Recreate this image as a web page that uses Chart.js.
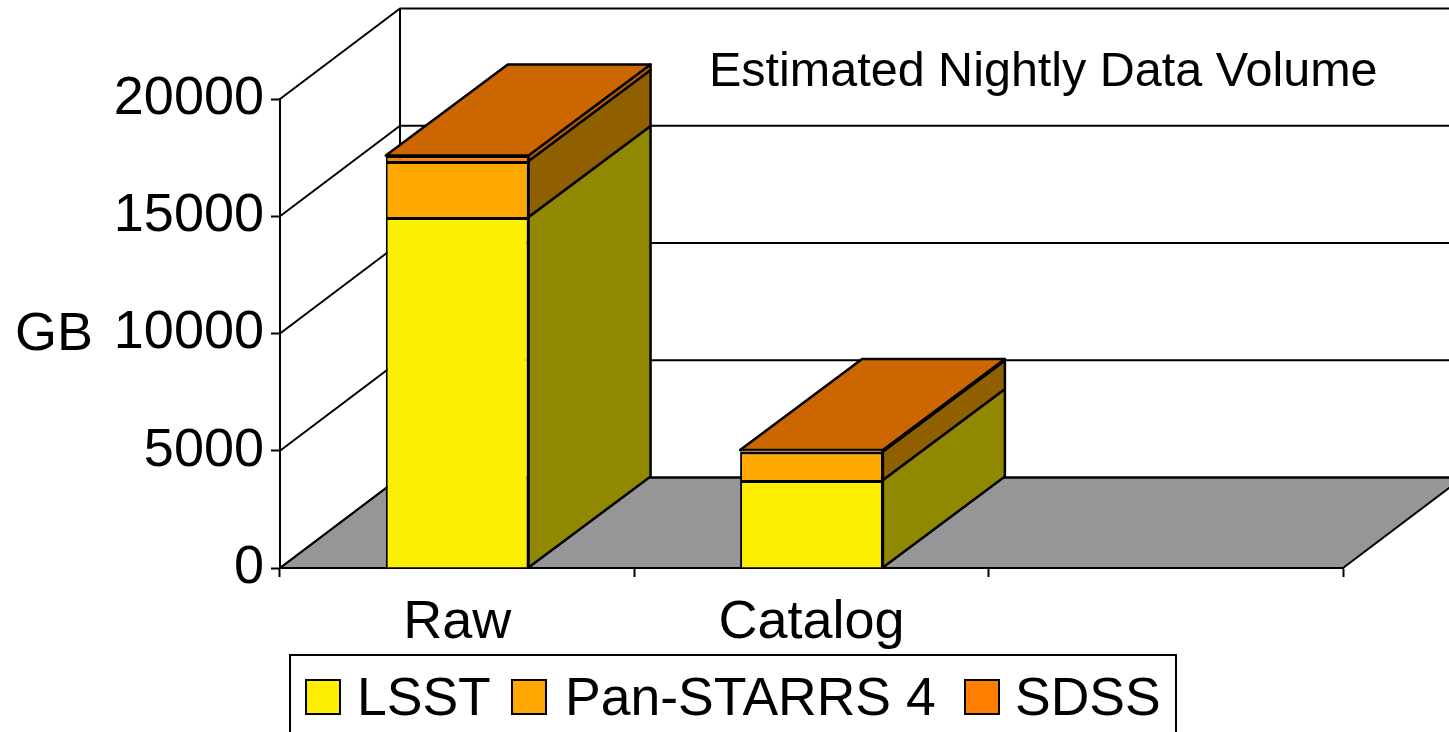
<!DOCTYPE html>
<html>
<head>
<meta charset="utf-8">
<title>Estimated Nightly Data Volume</title>
<script src="https://cdn.jsdelivr.net/npm/chart.js@4"></script>
<style>
    html, body { margin: 0; padding: 0; background: #fff; overflow: hidden; }
    canvas { display: block; }
</style>
</head>
<body>
<canvas id="volumeChart" width="1449" height="732"></canvas>
<script>
// Values (GB per night)
const categories = ['Raw', 'Catalog', ''];
const lsstValues = [14970, 3750];
const panStarrsValues = [2390, 1220];
const sdssValues = [230, 60];
const yMax = 20000;
const yStep = 5000;

const chartTitle = 'Estimated Nightly Data Volume';
const yAxisLabel = 'GB';
const FONT = '"Liberation Sans", Arial, sans-serif';

// Oblique offset of the back wall and of the bars
const wallDepth = { x: 120, y: 90.5 };
const barDepth = { x: 122, y: 91 };

const frontColors = ['#fcf000', '#ffa800', '#ff7f00'];
const sideColors = ['#908800', '#906000', '#cc6600'];
const topColor = '#cc6600';

function polygon(ctx, points, fill) {
    ctx.beginPath();
    points.forEach((p, i) => i ? ctx.lineTo(p[0], p[1]) : ctx.moveTo(p[0], p[1]));
    ctx.closePath();
    if (fill) {
        ctx.fillStyle = fill;
        ctx.fill();
    }
    ctx.stroke();
}

// Floor, back wall gridlines and side wall, behind the axes
const wallsPlugin = {
    id: 'walls',
    beforeDraw(chart) {
        const ctx = chart.ctx;
        const { left, right, bottom } = chart.chartArea;
        const yScale = chart.scales.y;
        const backLeft = left + wallDepth.x;
        const backRight = right + wallDepth.x;

        ctx.save();
        ctx.strokeStyle = '#000';
        ctx.lineWidth = 2;
        ctx.lineJoin = 'round';

        polygon(ctx, [[left, bottom], [right, bottom], [backRight, bottom - wallDepth.y], [backLeft, bottom - wallDepth.y]], '#969696');

        yScale.ticks.forEach(tick => {
            const y = yScale.getPixelForValue(tick.value);
            ctx.beginPath();
            ctx.moveTo(left, y);
            ctx.lineTo(backLeft, y - wallDepth.y);
            ctx.lineTo(backRight, y - wallDepth.y);
            ctx.stroke();
        });

        const topY = yScale.getPixelForValue(yMax) - wallDepth.y;
        ctx.beginPath();
        ctx.moveTo(backLeft, topY);
        ctx.lineTo(backLeft, bottom - wallDepth.y);
        ctx.stroke();
        ctx.restore();
    }
};

// Side and top faces of the bars; the front faces are the chart's own bars
const barDepthPlugin = {
    id: 'barDepth',
    beforeDatasetsDraw(chart) {
        const ctx = chart.ctx;
        const dx = barDepth.x;
        const dy = barDepth.y;
        const lastIndex = chart.data.datasets.length - 1;

        ctx.save();
        ctx.strokeStyle = '#000';
        ctx.lineWidth = 2.5;
        ctx.lineJoin = 'round';

        chart.data.datasets.forEach((dataset, i) => {
            chart.getDatasetMeta(i).data.forEach(bar => {
                const p = bar.getProps(['x', 'y', 'base', 'width'], true);
                const xLeft = p.x - p.width / 2;
                const xRight = p.x + p.width / 2;
                polygon(ctx, [[xRight, p.y], [xRight, p.base], [xRight + dx, p.base - dy], [xRight + dx, p.y - dy]], sideColors[i]);
                if (i === lastIndex) {
                    polygon(ctx, [[xLeft, p.y], [xRight, p.y], [xRight + dx, p.y - dy], [xLeft + dx, p.y - dy]], topColor);
                }
            });
        });
        ctx.restore();
    }
};

// Title, axis label and the framed legend
const annotationsPlugin = {
    id: 'annotations',
    afterDraw(chart) {
        const ctx = chart.ctx;
        ctx.save();
        ctx.fillStyle = '#000';
        ctx.textBaseline = 'alphabetic';
        ctx.textAlign = 'left';

        ctx.font = '48.5px ' + FONT;
        ctx.fillText(chartTitle, 709, 86);

        ctx.font = '54px ' + FONT;
        ctx.fillText(yAxisLabel, 15, 350);

        ctx.strokeStyle = '#000';
        ctx.lineWidth = 2;
        ctx.fillStyle = '#fff';
        ctx.fillRect(290, 655, 886, 100);
        ctx.strokeRect(290, 655, 886, 100);

        const swatchX = [306, 512, 965];
        const textX = [357, 565, 1015];
        ctx.font = '53.5px ' + FONT;
        chart.data.datasets.forEach((dataset, i) => {
            ctx.fillStyle = dataset.backgroundColor;
            ctx.fillRect(swatchX[i], 680, 34, 34);
            ctx.strokeRect(swatchX[i], 680, 34, 34);
            ctx.fillStyle = '#000';
            ctx.fillText(dataset.label, textX[i], 715);
        });
        ctx.restore();
    }
};

const seriesLabels = ['LSST', 'Pan-STARRS 4', 'SDSS'];
const seriesValues = [lsstValues, panStarrsValues, sdssValues];

new Chart(document.getElementById('volumeChart'), {
    type: 'bar',
    data: {
        labels: categories,
        datasets: seriesLabels.map((label, i) => ({
            label: label,
            data: seriesValues[i],
            backgroundColor: frontColors[i],
            borderColor: '#000',
            // no bottom edge, the next segment's top edge already closes the join
            borderWidth: { top: 3, left: 2, right: 2, bottom: 0 },
            borderSkipped: false,
            barPercentage: 0.403,
            categoryPercentage: 1
        }))
    },
    options: {
        responsive: false,
        animation: false,
        layout: { padding: { top: 99, right: 106, left: 0, bottom: 0 } },
        plugins: {
            legend: { display: false },
            title: { display: false },
            tooltip: { enabled: false }
        },
        scales: {
            x: {
                stacked: true,
                afterFit: axis => { axis.height = 164; },
                border: { color: '#000', width: 2 },
                grid: { drawOnChartArea: false, tickLength: 9, tickColor: '#000', tickWidth: 2 },
                ticks: { color: '#000', padding: 14, maxRotation: 0, font: { family: FONT, size: 54 } }
            },
            y: {
                stacked: true,
                min: 0,
                max: yMax,
                afterFit: axis => { axis.width = 280; },
                border: { color: '#000', width: 2 },
                grid: { drawOnChartArea: false, tickLength: 9, tickColor: '#000', tickWidth: 2 },
                ticks: { color: '#000', stepSize: yStep, padding: 7, font: { family: FONT, size: 54 }, callback: value => String(value) }
            }
        }
    },
    plugins: [wallsPlugin, barDepthPlugin, annotationsPlugin]
});
</script>
</body>
</html>
